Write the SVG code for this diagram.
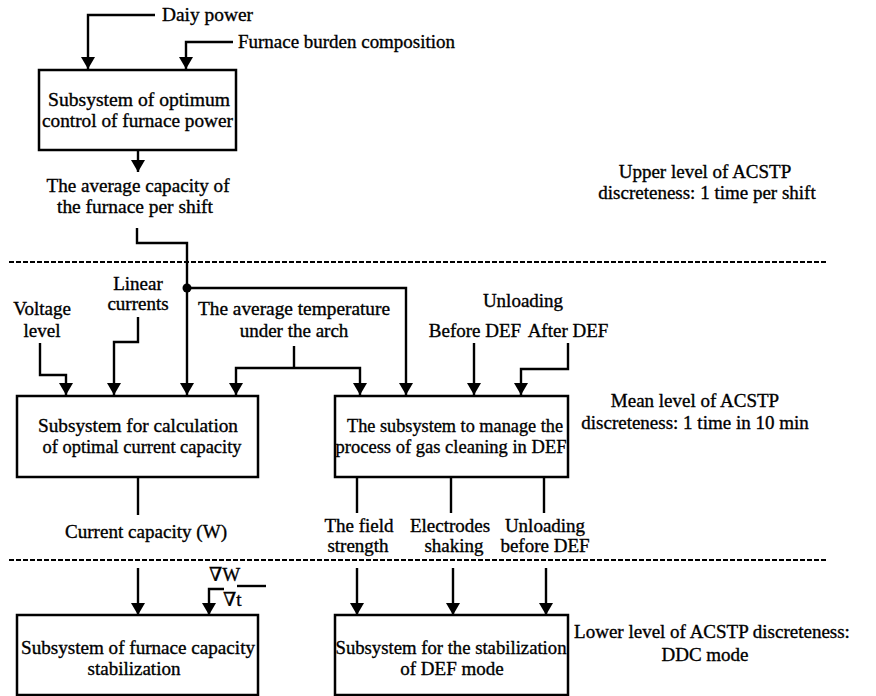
<svg xmlns="http://www.w3.org/2000/svg" width="876" height="696" viewBox="0 0 876 696" font-family="'Liberation Serif', 'DejaVu Serif', serif" font-size="19">
<defs>
<marker id="ah" viewBox="0 0 12 14" refX="12" refY="7" markerWidth="12" markerHeight="14" markerUnits="userSpaceOnUse" orient="auto">
<path d="M0,0 L12,7 L0,14 z" fill="#000"/>
</marker>
<style>
text{font-family:'Liberation Serif','DejaVu Serif',serif;font-size:19px;fill:#000;stroke:#000;stroke-width:0.35px;}
.c{text-anchor:middle;}
.box{fill:#fff;stroke:#000;stroke-width:2.5;}
.ln{fill:none;stroke:#000;stroke-width:2.4;}
.ar{marker-end:url(#ah);}
.dash{stroke:#000;stroke-width:2;stroke-dasharray:5 2;fill:none;}
</style>
</defs>
<rect width="876" height="696" fill="#fff"/>

<g id="levels">
<line class="dash" x1="9" y1="262" x2="828" y2="262"/>
<line class="dash" x1="9" y1="560" x2="828" y2="560"/>
<text class="c" x="705" y="178">Upper level of ACSTP</text>
<text class="c" x="707" y="199">discreteness: 1 time per shift</text>
<text class="c" x="695" y="407">Mean level of ACSTP</text>
<text class="c" x="695" y="429">discreteness: 1 time in 10 min</text>
<text class="c" x="712" y="638">Lower level of ACSTP discreteness:</text>
<text class="c" x="705" y="661">DDC mode</text>
</g>

<g id="connectors">
<polyline class="ln ar" points="155,15 88,15 88,69"/>
<polyline class="ln ar" points="233,42 186,42 186,69"/>
<polyline class="ln ar" points="138,151 138,172"/>
<polyline class="ln ar" points="137,228 137,243 187,243 187,395"/>
<circle cx="187" cy="288" r="4.5" fill="#000"/>
<polyline class="ln ar" points="187,288 406,288 406,395"/>
<polyline class="ln ar" points="40,343 40,375 66,375 66,395"/>
<polyline class="ln ar" points="138,317 138,342 114,342 114,395"/>
<polyline class="ln" points="294,346 294,368"/>
<polyline class="ln ar" points="294,368 236,368 236,395"/>
<polyline class="ln ar" points="294,368 360,368 360,395"/>
<polyline class="ln ar" points="474,343 474,395"/>
<polyline class="ln ar" points="568,343 568,369 521,369 521,395"/>
<line class="ln" x1="138" y1="477" x2="138" y2="515"/>
<line class="ln" x1="357" y1="477" x2="357" y2="513"/>
<line class="ln" x1="451" y1="477" x2="451" y2="513"/>
<line class="ln" x1="544" y1="477" x2="544" y2="513"/>
<polyline class="ln ar" points="138,568 138,615"/>
<polyline class="ln ar" points="224,589 209,589 209,615"/>
<line class="ln" x1="237" y1="586" x2="266" y2="586" stroke-width="2"/>
<polyline class="ln ar" points="357,568 357,615"/>
<polyline class="ln ar" points="453,568 453,615"/>
<polyline class="ln ar" points="546,568 546,615"/>
</g>

<g id="labels">
<text x="162" y="21" textLength="91" lengthAdjust="spacingAndGlyphs">Daiy power</text>
<text x="238" y="48" textLength="217" lengthAdjust="spacingAndGlyphs">Furnace burden composition</text>
<text class="c" x="138" y="192" textLength="183" lengthAdjust="spacingAndGlyphs">The average capacity of</text>
<text class="c" x="135" y="213" textLength="156" lengthAdjust="spacingAndGlyphs">the furnace per shift</text>
<text class="c" x="42" y="315">Voltage</text>
<text class="c" x="42" y="337">level</text>
<text class="c" x="138" y="290">Linear</text>
<text class="c" x="138" y="310">currents</text>
<text class="c" x="294" y="315" textLength="192" lengthAdjust="spacingAndGlyphs">The average temperature</text>
<text class="c" x="294" y="337">under the arch</text>
<text class="c" x="523" y="307">Unloading</text>
<text class="c" x="475" y="337">Before DEF</text>
<text class="c" x="568" y="337">After DEF</text>
<text class="c" x="146" y="538" textLength="162" lengthAdjust="spacingAndGlyphs">Current capacity (W)</text>
<text class="c" x="359" y="532">The field</text>
<text class="c" x="358" y="552">strength</text>
<text class="c" x="450" y="532">Electrodes</text>
<text class="c" x="454" y="552">shaking</text>
<text class="c" x="545" y="532">Unloading</text>
<text class="c" x="545" y="552">before DEF</text>
<text x="209" y="581">∇W</text>
<text x="223" y="606">∇t</text>
</g>

<g id="n1">
<rect class="box" x="39" y="70" width="197" height="80"/>
<text class="c" x="139" y="106" textLength="182" lengthAdjust="spacingAndGlyphs">Subsystem of optimum</text>
<text class="c" x="137.5" y="127" textLength="191" lengthAdjust="spacingAndGlyphs">control of furnace power</text>
</g>
<g id="n2">
<rect class="box" x="17" y="396" width="241" height="81"/>
<text class="c" x="138" y="432" textLength="200" lengthAdjust="spacingAndGlyphs">Subsystem for calculation</text>
<text class="c" x="142" y="453" textLength="199" lengthAdjust="spacingAndGlyphs">of optimal current capacity</text>
</g>
<g id="n3">
<rect class="box" x="335" y="396" width="233" height="81"/>
<text class="c" x="455" y="432" textLength="216" lengthAdjust="spacingAndGlyphs">The subsystem to manage the</text>
<text class="c" x="451" y="453" textLength="231" lengthAdjust="spacingAndGlyphs">process of gas cleaning in DEF</text>
</g>
<g id="n4">
<rect class="box" x="17" y="615" width="241" height="80"/>
<text class="c" x="138" y="654" textLength="234" lengthAdjust="spacingAndGlyphs">Subsystem of furnace capacity</text>
<text class="c" x="134" y="675">stabilization</text>
</g>
<g id="n5">
<rect class="box" x="335" y="615" width="233" height="80"/>
<text class="c" x="451" y="654" textLength="231" lengthAdjust="spacingAndGlyphs">Subsystem for the stabilization</text>
<text class="c" x="452" y="675">of DEF mode</text>
</g>
</svg>
